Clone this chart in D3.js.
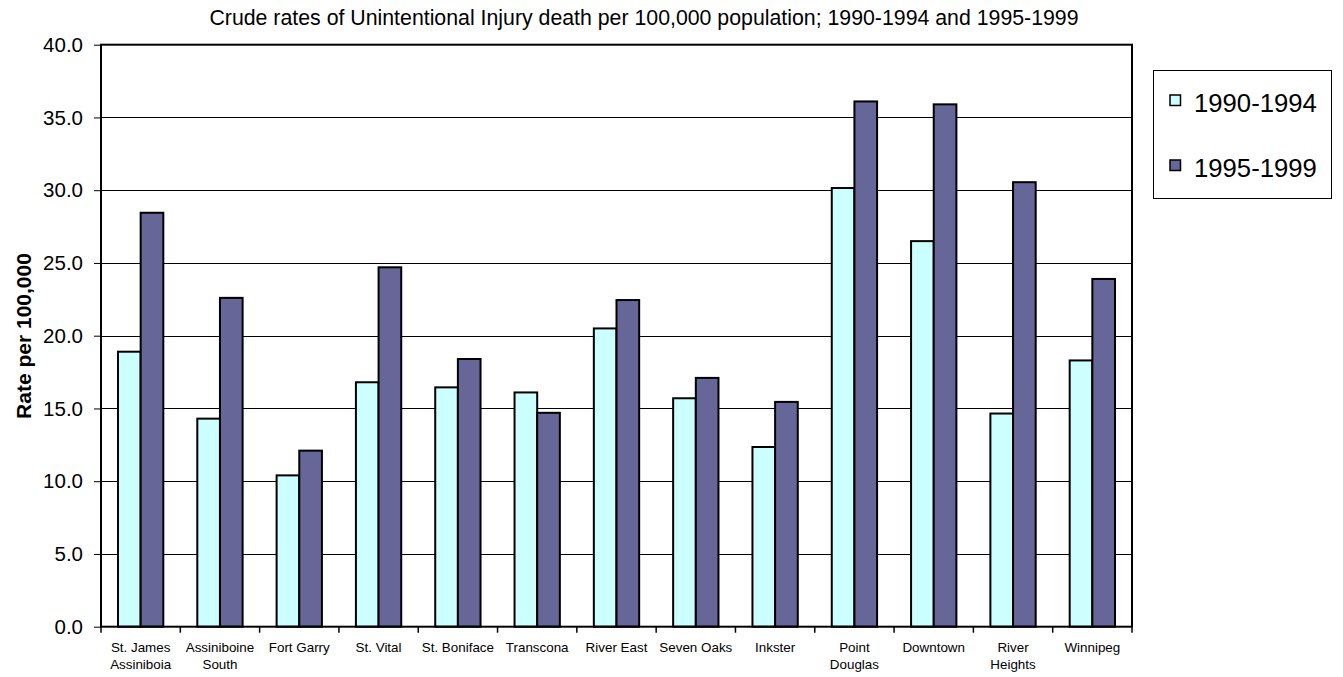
<!DOCTYPE html>
<html><head><meta charset="utf-8">
<script src="https://cdn.jsdelivr.net/npm/d3@7"></script>
<style>
html,body{margin:0;padding:0;background:#fff;}
svg{display:block;font-family:"Liberation Sans",Arial,sans-serif;}
</style></head>
<body>
<svg id="c" width="1343" height="677"></svg>
<script>
const categories = [["St. James","Assiniboia"],["Assiniboine","South"],["Fort Garry"],["St. Vital"],["St. Boniface"],["Transcona"],["River East"],["Seven Oaks"],["Inkster"],["Point","Douglas"],["Downtown"],["River","Heights"],["Winnipeg"]];
const seriesNames = ["1990-1994","1995-1999"];
const rates1990 = [18.9,14.3,10.4,16.8,16.45,16.1,20.5,15.7,12.35,30.15,26.5,14.65,18.3];
const rates1995 = [28.45,22.6,12.1,24.7,18.4,14.7,22.45,17.1,15.45,36.1,35.9,30.55,23.9];
const yTicks = [0,5,10,15,20,25,30,35,40];
const colors = ["#CCFFFF","#666699"];

const svg = d3.select("#c");
const L=101, R=1132, T=44.7, B=626.7;
const keys = categories.map((c,i)=>i);
const x0 = d3.scaleBand().domain(keys).range([L,R]).paddingInner(1.5/3.5).paddingOuter(0.75/3.5);
const x1 = d3.scaleBand().domain([0,1]).range([0,x0.bandwidth()]);
const y = d3.scaleLinear().domain([0,40]).range([B,T]);
const step = x0.step();

// title
svg.append("text").attr("x",644).attr("y",25).attr("text-anchor","middle")
  .style("font-size","21.3px").text("Crude rates of Unintentional Injury death per 100,000 population; 1990-1994 and 1995-1999");

// gridlines
svg.append("g").selectAll("line").data(yTicks.filter(t=>t>0&&t<40)).join("line")
  .attr("x1",L).attr("x2",R).attr("y1",d=>Math.round(y(d))+0.5).attr("y2",d=>Math.round(y(d))+0.5)
  .attr("stroke","#000").attr("stroke-width",1);

// bars
const data = keys.map(i=>[rates1990[i],rates1995[i]]);
const g = svg.append("g");
g.selectAll("g").data(data).join("g")
  .attr("transform",(d,i)=>`translate(${x0(i)},0)`)
  .selectAll("rect").data(d=>d.map((v,k)=>({v,k}))).join("rect")
  .attr("x",d=>x1(d.k)).attr("width",x1.bandwidth())
  .attr("y",d=>y(d.v)).attr("height",d=>B-y(d.v))
  .attr("fill",d=>colors[d.k]).attr("stroke","#000").attr("stroke-width",2);

// frame
svg.append("rect").attr("x",L).attr("y",T).attr("width",R-L).attr("height",B-T)
  .attr("fill","none").attr("stroke","#000").attr("stroke-width",2);

// y axis
const yAxis = d3.axisLeft(y).tickValues(yTicks).tickFormat(d3.format(".1f")).tickSize(7).tickPadding(11);
const ya = svg.append("g").attr("transform",`translate(${L},0)`).call(yAxis);
ya.select(".domain").remove();
ya.selectAll("line").attr("stroke","#000").attr("stroke-width",1);
ya.selectAll("text").style("font-size","20.5px").attr("fill","#000").attr("font-family","Liberation Sans, Arial, sans-serif");

// x ticks at category boundaries
svg.append("g").selectAll("line").data(d3.range(categories.length+1)).join("line")
  .attr("x1",i=>L+i*step).attr("x2",i=>L+i*step).attr("y1",B).attr("y2",B+6)
  .attr("stroke","#000").attr("stroke-width",1.5);

// category labels
const cl = svg.append("g").selectAll("text").data(categories).join("text")
  .attr("x",(d,i)=>x0(i)+x0.bandwidth()/2).attr("y",651.5)
  .attr("text-anchor","middle").style("font-size","13.4px");
cl.selectAll("tspan").data(d=>d).join("tspan")
  .attr("x",function(){return this.parentNode.getAttribute("x");})
  .attr("dy",(d,i)=>i===0?0:17.6).text(d=>d);

// y label
svg.append("text").attr("transform","translate(31,336) rotate(-90)").attr("text-anchor","middle")
  .style("font-size","21px").style("font-weight","bold").text("Rate per 100,000");

// legend
const lg = svg.append("g");
lg.append("rect").attr("x",1153.5).attr("y",70.5).attr("width",178).attr("height",128)
  .attr("fill","#fff").attr("stroke","#000").attr("stroke-width",1);
const items = lg.selectAll("g").data(seriesNames).join("g")
  .attr("transform",(d,i)=>`translate(0,${i*65})`);
items.append("rect").attr("x",1170).attr("y",95).attr("width",10.5).attr("height",10.5)
  .attr("fill",(d,i)=>colors[i]).attr("stroke","#000").attr("stroke-width",1.5);
items.append("text").attr("x",1194).attr("y",111.5).style("font-size","25.7px").text(d=>d);
</script>
</body></html>
